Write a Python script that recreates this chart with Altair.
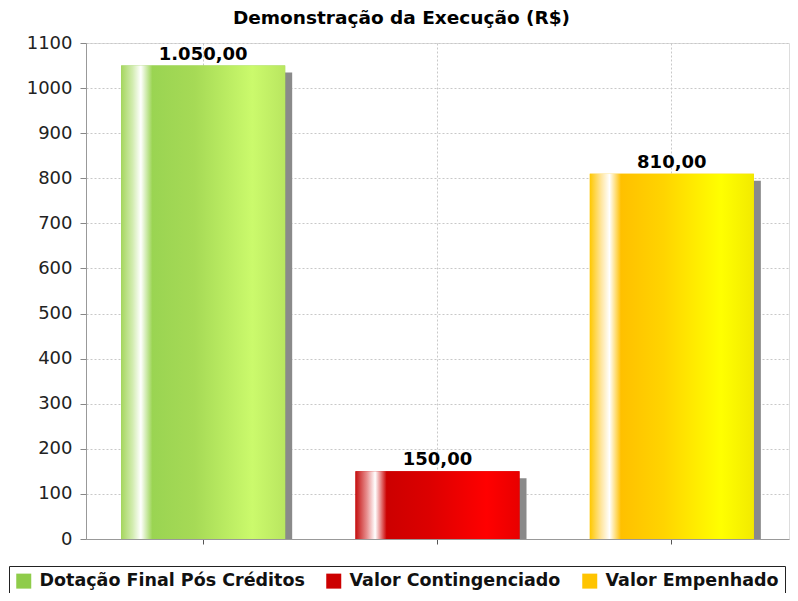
import altair as alt
import pandas as pd

categories = ["Dotação Final Pós Créditos", "Valor Contingenciado", "Valor Empenhado"]
values = [1050, 150, 810]
legend_colors = ["#8fcc4a", "#cc0000", "#ffc400"]
y_ticks = [0, 100, 200, 300, 400, 500, 600, 700, 800, 900, 1000, 1100]


def br_format(v):
    s = f"{v:,.2f}"
    return s.replace(",", "X").replace(".", ",").replace("X", ".")


df = pd.DataFrame({
    "cat": categories,
    "val": values,
    "label": [br_format(v) for v in values],
})

gradients = {
    categories[0]: [("#a5d65e", 0), ("#d2ecb0", 0.07), ("#ffffff", 0.12), ("#9ad452", 0.19),
                    ("#a6da56", 0.45), ("#cbfa6c", 0.8), ("#b9e660", 1)],
    categories[1]: [("#c41010", 0), ("#e89090", 0.07), ("#ffffff", 0.12), ("#cc0000", 0.19),
                    ("#dc0000", 0.45), ("#ff0000", 0.8), ("#e80000", 1)],
    categories[2]: [("#ffc800", 0), ("#ffe6a0", 0.07), ("#ffffff", 0.12), ("#ffc000", 0.19),
                    ("#ffd400", 0.45), ("#ffff00", 0.8), ("#f2ea00", 1)],
}

FONT = "DejaVu Sans"

x_enc = alt.X("cat:N", sort=categories, title=None,
              scale=alt.Scale(paddingInner=0, paddingOuter=0),
              axis=alt.Axis(labels=False, grid=True, gridDash=[2, 2], gridColor="#c8c8c8",
                            tickColor="#555", tickSize=5, domainColor="#999", ticks=True))
y_enc = alt.Y("val:Q", title=None,
              scale=alt.Scale(domain=[0, 1100], nice=False),
              axis=alt.Axis(values=y_ticks, format="d", grid=True, gridDash=[2, 2],
                            gridColor="#c8c8c8", tickColor="#888", tickSize=6,
                            domainColor="#999", labelFont=FONT, labelFontSize=18,
                            labelColor="#222", labelPadding=8))

base = alt.Chart(df)

shadow = base.mark_bar(color="#8a8a8a", xOffset=7, yOffset=7, clip=True,
                       width=alt.RelativeBandSize(0.7)).encode(x=x_enc, y=y_enc)

legend_bars = base.mark_bar(width=alt.RelativeBandSize(0.7)).encode(
    x=x_enc, y=y_enc,
    color=alt.Color("cat:N", sort=categories,
                    scale=alt.Scale(domain=categories, range=legend_colors),
                    legend=alt.Legend(title=None, orient="none", direction="horizontal",
                                      legendX=-77, legendY=523, symbolType="square",
                                      symbolSize=225, symbolStrokeWidth=0,
                                      labelFont=FONT, labelFontWeight="bold", labelFontSize=17.5,
                                      labelColor="#111", labelLimit=400, columnPadding=20,
                                      labelOffset=7, padding=6, strokeColor="#222")),
)

grad_layers = []
for c in categories:
    stops = [alt.GradientStop(color=col, offset=off) for col, off in gradients[c]]
    grad_layers.append(
        base.transform_filter(alt.datum.cat == c).mark_bar(
            width=alt.RelativeBandSize(0.7),
            color=alt.Gradient(gradient="linear", stops=stops, x1=0, x2=1, y1=0, y2=0),
        ).encode(x=x_enc, y=y_enc)
    )

labels = base.mark_text(font=FONT, fontWeight="bold", fontSize=18, baseline="alphabetic",
                        dy=-6, color="#000").encode(x=x_enc, y=y_enc, text="label:N")

chart = alt.layer(shadow, legend_bars, *grad_layers, labels).properties(
    width=703, height=496,
    padding={"left": 78, "top": 35, "right": 1, "bottom": 54},
    autosize=alt.AutoSizeParams(type="none"),
    title=alt.TitleParams("Demonstração da Execução (R$)", font=FONT, fontWeight="bold",
                          fontSize=18.5, color="#000", anchor="middle", dx=-36, offset=7),
).configure_view(stroke="#999", strokeWidth=1).configure(background="white")

chart.save("out.html", embed_options={"renderer": "svg", "actions": False})
